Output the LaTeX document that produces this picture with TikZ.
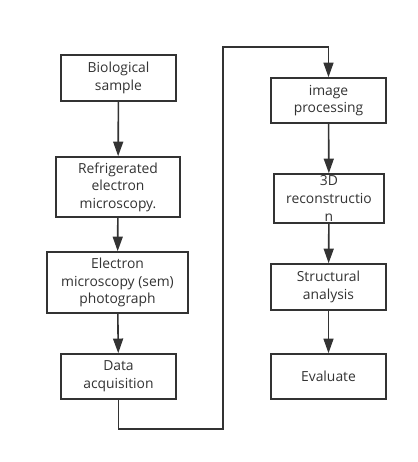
\documentclass[tikz,border=0pt]{standalone}
\usepackage{fontspec}
\setmainfont{Open Sans}
\usetikzlibrary{arrows.meta}
\definecolor{ink}{HTML}{333333}
\begin{document}
\begin{tikzpicture}[x=0.75pt,y=-0.75pt,
  box/.style={draw=ink,line width=1.2pt,fill=white,align=center,inner sep=0pt,
    font=\fontsize{10.4pt}{13.2pt}\selectfont,text=ink},
  flow/.style={draw=ink,line width=1.2pt,-{Triangle[length=11pt,width=7.5pt]}},
  wire/.style={draw=ink,line width=1.2pt}]
\useasboundingbox (0,0) rectangle (418,462);
\node[box,minimum width=115*0.75pt,minimum height=46*0.75pt] (bio) at (118.5,78) {Biological\\sample};
\node[box,minimum width=124*0.75pt,minimum height=60*0.75pt] (ref) at (118,187) {Refrigerated\\electron\\microscopy.};
\node[box,minimum width=141*0.75pt,minimum height=61*0.75pt] (sem) at (117.5,282.5) {Electron\\microscopy (sem)\\photograph};
\node[box,minimum width=115*0.75pt,minimum height=45*0.75pt] (dat) at (118.5,376.5) {Data\\acquisition};
\node[box,minimum width=115*0.75pt,minimum height=45*0.75pt] (img) at (328.5,100.5) {image\\processing};
\node[box,minimum width=110*0.75pt,minimum height=49*0.75pt] (rec) at (329,198.5) {3D\\reconstructio\\n};
\node[box,minimum width=115*0.75pt,minimum height=46*0.75pt] (str) at (328.5,287) {Structural\\analysis};
\node[box,minimum width=115*0.75pt,minimum height=45*0.75pt] (eva) at (328.5,376.5) {Evaluate};
\coordinate (c1) at (118.5,429);
\coordinate (c2) at (223,429);
\coordinate (c3) at (223,47);
\coordinate (c4) at (328.5,47);
\draw[flow] (bio) -- (ref);
\draw[flow] (ref) -- (sem);
\draw[flow] (sem) -- (dat);
\draw[flow] (dat.south) -- (c1) -- (c2) -- (c3) -- (c4) -- (img.north);
\draw[flow] (img) -- (rec);
\draw[flow] (rec) -- (str);
\draw[flow] (str) -- (eva);
\end{tikzpicture}
\end{document}
